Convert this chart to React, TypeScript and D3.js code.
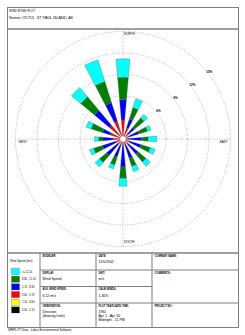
import React, { useRef, useEffect } from 'react';
import * as d3 from 'd3';

// directions the wind blows from, clockwise from north
const directions = ['N', 'NNE', 'NE', 'ENE', 'E', 'ESE', 'SE', 'SSE', 'S', 'SSW', 'SW', 'WSW', 'W', 'WNW', 'NW', 'NNW'];

// frequency (%) of each speed class per direction
const class05to21 = [0.1, 0.1, 0.1, 0.1, 0.1, 0.1, 0.1, 0.1, 0.1, 0.1, 0.1, 0.1, 0.1, 0.1, 0.1, 0.1];
const class21to36 = [0.2, 0.2, 0.2, 0.2, 0.2, 0.2, 0.2, 0.2, 0.2, 0.2, 0.2, 0.2, 0.2, 0.2, 0.2, 0.2];
const class36to57 = [2.35, 1.3, 0.7, 0.6, 0.5, 0.6, 0.6, 0.5, 0.6, 0.6, 0.7, 0.8, 1.1, 1.6, 2.2, 2.3];
const class57to88 = [2.85, 1.3, 1.1, 1.4, 1.8, 1.7, 1.9, 2.0, 3.0, 1.7, 2.0, 1.9, 1.4, 1.1, 2.7, 2.7];
const class88to111 = [3.1, 1.7, 1.75, 1.3, 0.9, 1.4, 1.4, 1.2, 1.6, 1.2, 1.3, 1.3, 0.6, 1.65, 2.5, 3.1];
const class111up = [2.6, 1.3, 0.65, 0.5, 1.2, 0.7, 0.8, 0.8, 1.1, 0.6, 0.8, 0.6, 0.6, 0.75, 1.7, 3.2];

const speedClasses = [class05to21, class21to36, class36to57, class57to88, class88to111, class111up];
const classColors = ['#000000', '#ffff00', '#ff0000', '#0000ff', '#008000', '#00ffff'];
const legendLabels = ['>= 11.10', '8.80 - 11.10', '5.70 - 8.80', '3.60 - 5.70', '2.10 - 3.60', '0.50 - 2.10'];

const ringValues = [3, 6, 9, 12, 15];
const ringLabels = ['', '6%', '9%', '12%', '15%'];

const App = () => {
    const svgRef = useRef(null);

    useEffect(() => {
        const svg = d3.select(svgRef.current);
        svg.selectAll('*').remove();
        const font = 'Liberation Sans, Arial, sans-serif';
        const border = '#808080';

        // frames
        svg.append('rect').attr('x', 7.5).attr('y', 7.5).attr('width', 231).attr('height', 21.5)
           .attr('fill', 'none').attr('stroke', border);
        svg.append('rect').attr('x', 7.5).attr('y', 29).attr('width', 231).attr('height', 224)
           .attr('fill', 'none').attr('stroke', border);

        svg.append('text').attr('x', 9).attr('y', 11.5).text('WIND ROSE PLOT:')
           .style('font-family', font).style('font-size', '3px');
        svg.append('text').attr('x', 9).attr('y', 19).text('Station #25713 - ST PAUL ISLAND, AK')
           .style('font-family', font).style('font-size', '3.7px');

        // rose
        const cx = 123, cy = 139;
        const rScale = d3.scaleLinear().domain([0, 15]).range([0, 107.5]);
        const g = svg.append('g').attr('transform', `translate(${cx},${cy})`);
        const gridColor = '#8c8ccc';

        g.selectAll('.ring')
         .data(ringValues)
         .join('circle')
         .attr('r', d => rScale(d))
         .attr('fill', 'none')
         .attr('stroke', gridColor)
         .attr('stroke-width', 0.8)
         .attr('stroke-dasharray', '0.8,1.6');

        const rMax = rScale(15);
        g.append('line').attr('x1', 0).attr('x2', 0).attr('y1', -rMax).attr('y2', rMax)
         .attr('stroke', gridColor).attr('stroke-width', 0.8).attr('stroke-dasharray', '0.8,1.6');
        g.append('line').attr('y1', 0).attr('y2', 0).attr('x1', -rMax).attr('x2', rMax)
         .attr('stroke', gridColor).attr('stroke-width', 0.8).attr('stroke-dasharray', '0.8,1.6');

        const labelAngle = (52 * Math.PI) / 180;
        g.selectAll('.ringLabel')
         .data(ringValues.map((v, i) => ({ v, t: ringLabels[i] })).filter(d => d.t))
         .join('text')
         .attr('x', d => (rScale(d.v) + 2) * Math.sin(labelAngle))
         .attr('y', d => -(rScale(d.v) + 2) * Math.cos(labelAngle) + 1)
         .attr('text-anchor', 'middle')
         .text(d => d.t)
         .style('font-family', font).style('font-size', '3px').style('font-weight', 'bold');

        const dirLabel = (t, x, y, anchor) =>
            g.append('text').attr('x', x).attr('y', y).attr('text-anchor', anchor).text(t)
             .style('font-family', font).style('font-size', '3px');
        dirLabel('NORTH', 1, -rMax + 3.5, 'start');
        dirLabel('SOUTH', 1, rMax - 3.5, 'start');
        dirLabel('WEST', -rMax + 3, 3.5, 'start');
        dirLabel('EAST', rMax - 3, 3.5, 'end');

        // petals
        const half = (5 * Math.PI) / 180;
        const arc = d3.arc();
        const segments = [];
        directions.forEach((dir, i) => {
            let cum = 0;
            speedClasses.forEach((cls, k) => {
                const a = (i * 22.5 * Math.PI) / 180;
                segments.push({
                    startAngle: a - half,
                    endAngle: a + half,
                    innerRadius: rScale(cum),
                    outerRadius: rScale(cum + cls[i]),
                    color: classColors[k]
                });
                cum += cls[i];
            });
        });

        g.selectAll('.petal')
         .data(segments)
         .join('path')
         .attr('d', d => arc(d))
         .attr('fill', d => d.color)
         .attr('stroke', '#555')
         .attr('stroke-width', 0.3);

        g.append('circle').attr('r', 3.2).attr('fill', '#fff').attr('stroke', '#666').attr('stroke-width', 0.5);

        // table
        const tTop = 253, tBot = 327.5;
        const cols = [7.5, 40, 96, 152, 238.5];
        svg.append('rect').attr('x', 7.5).attr('y', tTop).attr('width', 231).attr('height', tBot - tTop)
           .attr('fill', 'none').attr('stroke', border);
        [40, 96, 152].forEach(x =>
            svg.append('line').attr('x1', x).attr('x2', x).attr('y1', tTop).attr('y2', tBot).attr('stroke', border));
        [[270, 40, 238.5], [286.5, 40, 152], [303, 40, 238.5]].forEach(([y, x1, x2]) =>
            svg.append('line').attr('x1', x1).attr('x2', x2).attr('y1', y).attr('y2', y).attr('stroke', border));

        const cells = [
            [cols[1], tTop, 'MODELER:', []],
            [cols[1], 270, 'DISPLAY:', ['Wind Speed']],
            [cols[1], 286.5, 'AVG. WIND SPEED:', ['6.12 m/s']],
            [cols[1], 303, 'ORIENTATION:', ['Direction', '(blowing from)']],
            [cols[2], tTop, 'DATE:', ['11/5/2002']],
            [cols[2], 270, 'UNIT:', ['m/s']],
            [cols[2], 286.5, 'CALM WINDS:', ['1.46%']],
            [cols[2], 303, 'PLOT YEAR-DATE-TIME:', ['1961', 'Apr 1 - Apr 30', 'Midnight - 11 PM']],
            [cols[3], tTop, 'COMPANY NAME:', []],
            [cols[3], 270, 'COMMENTS:', []],
            [cols[3], 303, 'PROJECT NO.:', []]
        ];
        cells.forEach(([x, y, label, lines]) => {
            svg.append('text').attr('x', x + 2.5).attr('y', y + 3.8).text(label)
               .style('font-family', font).style('font-size', '2.6px').style('font-weight', 'bold');
            lines.forEach((l, j) =>
                svg.append('text').attr('x', x + 2.5).attr('y', y + 10 + j * 4.2).text(l)
                   .style('font-family', font).style('font-size', '3.5px'));
        });

        // legend
        svg.append('text').attr('x', 10).attr('y', 262).text('Wind Speed (m/s)')
           .style('font-family', font).style('font-size', '2.8px');
        const legendY = d3.scaleBand().domain(d3.range(6)).range([268.5, 313]).paddingInner(0.2);
        const legendColors = classColors.slice().reverse();
        svg.selectAll('.swatch')
           .data(legendColors)
           .join('rect')
           .attr('x', 11.5).attr('y', (d, i) => legendY(i))
           .attr('width', 8).attr('height', legendY.bandwidth())
           .attr('fill', d => d).attr('stroke', '#555').attr('stroke-width', 0.3);
        svg.selectAll('.legendLabel')
           .data(legendLabels)
           .join('text')
           .attr('x', 22).attr('y', (d, i) => legendY(i) + legendY.bandwidth() / 2 + 1)
           .text(d => d)
           .style('font-family', font).style('font-size', '2.6px');

        svg.append('text').attr('x', 8).attr('y', 331).text('WRPLOT View - Lakes Environmental Software')
           .style('font-family', font).style('font-size', '3px');
    }, []);

    return (
        <svg ref={svgRef} width={245} height={335}
             style={{ position: 'absolute', left: 0, top: 0, background: '#fff' }} />
    );
};

export default App;
